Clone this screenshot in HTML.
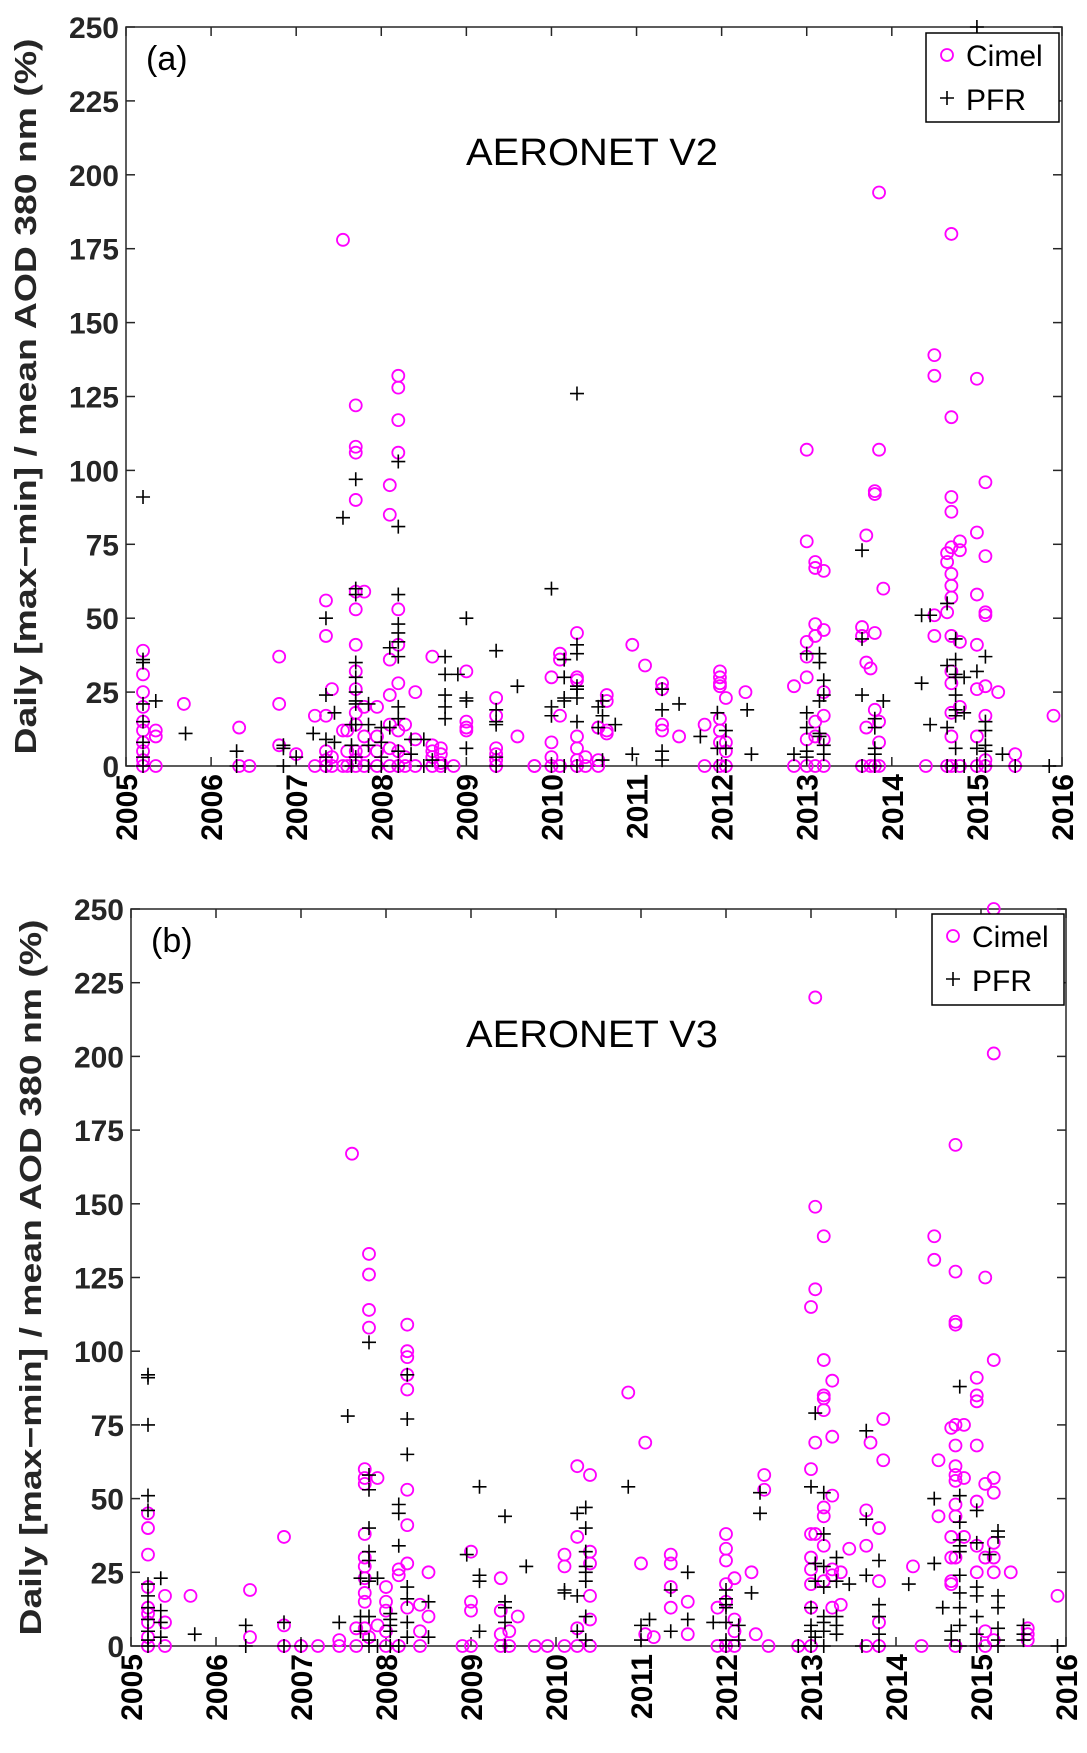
<!DOCTYPE html>
<html><head><meta charset="utf-8">
<style>
html,body{margin:0;padding:0;background:#fff;}
svg{display:block;font-family:"Liberation Sans",Arial,sans-serif;}
</style></head>
<body>
<svg id="fig" width="1087" height="1753" viewBox="0 0 1087 1753" xmlns="http://www.w3.org/2000/svg"></svg>
<script>
// ---- data: [year, [values...]] groups ----
const yearTicks = [2005,2006,2007,2008,2009,2010,2011,2012,2013,2014,2015,2016];
const valueTicks = [0,25,50,75,100,125,150,175,200,225,250];
const cimelV2 = [
[2005.2,[39,31,25,20,15,12,8,5,2,0]],[2005.35,[12,10,0]],[2005.68,[21]],[2006.33,[13,0]],[2006.45,[0]],
[2006.8,[37,21,7]],[2007.0,[4]],[2007.22,[17,0]],[2007.35,[56,44,17,5,0,2]],[2007.42,[26,3,0]],
[2007.55,[178,12,0]],[2007.6,[12,5,0]],[2007.7,[122,108,106,90,59,53,41,32,26,18,14,5,2,0]],
[2007.8,[59,20,10,5,0]],[2007.95,[20,10,5,0]],[2008.1,[36,24,95,85,14,6,0]],
[2008.2,[132,128,117,106,53,41,28,12,5,0]],[2008.28,[14,3,0]],[2008.4,[25,9,0]],[2008.6,[37,7,5,3,0]],
[2008.7,[6,4,1,0]],[2008.85,[0]],[2009.0,[32,15,13,12]],[2009.35,[23,17,6,4,2,0]],[2009.6,[10]],
[2009.8,[0,0]],[2010.0,[30,8,3,0]],[2010.1,[38,36,17,0]],[2010.3,[45,30,29,10,6,0,2]],[2010.4,[0,3]],
[2010.55,[13,2,0]],[2010.65,[24,22,12,11]],[2010.95,[41]],[2011.1,[34]],[2011.3,[28,26,14,12]],
[2011.5,[10]],[2011.8,[14,0]],[2011.98,[32,30,28,27,16,12,8,0]],[2012.05,[23,8,5,0]],[2012.28,[25]],
[2012.85,[27,0]],[2013.0,[107,76,42,37,30,9,0]],[2013.1,[69,67,48,44,15,10,0]],[2013.2,[66,46,25,17,9,0]],
[2013.65,[47,44,0]],[2013.7,[78,35,13]],[2013.75,[33,0]],[2013.8,[45,92,93,19,0]],[2013.85,[194,107,15,8,0]],
[2013.9,[60]],[2014.4,[0]],[2014.5,[139,132,44,51]],[2014.65,[72,69,52,0]],
[2014.7,[180,118,91,86,74,65,61,57,44,32,28,18,10,0]],[2014.8,[76,73,42,20,0]],
[2015.0,[131,79,58,41,26,10,0]],[2015.1,[96,71,52,51,27,17,2,0]],[2015.25,[25]],[2015.45,[4,0]],[2015.9,[17]]
];
const pfrV2 = [
[2005.2,[91,36,35,21,15,8,3,0]],[2005.35,[22]],[2005.7,[11]],[2006.3,[5,0]],[2006.85,[7,6,0]],[2007.0,[3]],
[2007.2,[11]],[2007.35,[50,24,9,3,0]],[2007.45,[18,8]],[2007.55,[84]],[2007.65,[14,7,0]],
[2007.7,[97,60,58,35,30,25,22,21,14,3]],[2007.85,[21,14,7,0]],[2008.0,[13,8,3,0]],[2008.1,[40,13]],
[2008.2,[103,81,58,48,45,42,37,20,16,5,0]],[2008.35,[9,4]],[2008.5,[9,0]],[2008.6,[2]],
[2008.75,[37,31,24,20,16,0]],[2008.9,[31]],[2009.0,[50,23,22,6]],[2009.35,[39,19,15,14,3,0]],[2009.6,[27]],
[2010.0,[60,20,17,0]],[2010.15,[36,30,23,22,0]],[2010.3,[126,41,38,27,26,23,15,0]],[2010.55,[20,13]],
[2010.6,[22,17,2]],[2010.75,[14]],[2010.95,[4]],[2011.3,[26,19,5,2]],[2011.5,[21]],[2011.75,[10]],
[2011.95,[18,6,0]],[2012.05,[12,6,0]],[2012.3,[19]],[2012.35,[4]],[2012.85,[4]],[2013.0,[38,18,13,5,3]],
[2013.15,[38,35,22,11,10]],[2013.2,[29,24,7,4]],[2013.65,[73,43,24,0]],[2013.8,[16,13,6,4,0]],[2013.9,[22]],
[2014.35,[28,51]],[2014.45,[51,14]],[2014.65,[55,34,13,0]],[2014.75,[43,36,31,30,24,19,17,6,0]],
[2014.85,[18,30,0]],[2015.0,[250,32,6,0]],[2015.1,[37,15,12,7,5,0]],[2015.3,[4]],[2015.45,[0]],[2015.85,[0]]
];
const cimelV3 = [
[2005.2,[45,40,31,20,13,11,8,3,0]],[2005.4,[17,8,0]],[2005.7,[17]],[2006.4,[19,3]],[2006.8,[37,7,0]],
[2007.0,[0]],[2007.2,[0]],[2007.45,[2,0]],[2007.6,[167]],[2007.65,[6,0]],
[2007.75,[60,57,55,38,30,27,23,18,15,6]],[2007.8,[133,126,114,108,3]],[2007.9,[57,7]],
[2008.0,[20,15,12,5,0]],[2008.15,[26,24,0]],[2008.25,[109,100,98,92,87,53,41,28,13]],[2008.4,[14,5,0]],
[2008.5,[25,10]],[2008.9,[0]],[2009.0,[32,15,12,0]],[2009.35,[23,12,4,0]],[2009.45,[5,0]],[2009.55,[10]],
[2009.75,[0]],[2009.9,[0]],[2010.1,[31,27,0]],[2010.25,[61,37,6,0]],[2010.4,[58,32,28,17,9,0]],
[2010.85,[86]],[2011.0,[28]],[2011.05,[69,4]],[2011.15,[3]],[2011.35,[31,28,20,13]],[2011.55,[15,4]],
[2011.9,[13,0]],[2012.0,[38,33,29,21,15,0]],[2012.1,[23,9,5,0]],[2012.3,[25]],[2012.35,[4]],
[2012.45,[53,58]],[2012.5,[0]],[2012.85,[0]],[2013.0,[115,60,38,30,26,21,13,0]],
[2013.05,[220,149,121,69,38]],[2013.15,[139,97,85,84,80,47,44,34,22]],[2013.25,[90,71,51,26,24,13]],
[2013.35,[25,14]],[2013.45,[33]],[2013.65,[46,34,0]],[2013.7,[69]],[2013.8,[40,22,8,0]],[2013.85,[77,63]],
[2014.2,[27]],[2014.3,[0]],[2014.45,[139,131]],[2014.5,[63,44]],[2014.65,[74,37,30,22,21]],
[2014.7,[170,127,110,109,75,68,61,58,56,48,44,30,0]],[2014.8,[75,57,37]],
[2014.95,[91,85,83,68,49,34,25]],[2015.05,[125,55,30,5,0]],[2015.15,[250,201,97,57,52,35,30,25,2]],
[2015.35,[25]],[2015.55,[6,4,2]],[2015.9,[17]]
];
const pfrV3 = [
[2005.2,[92,91,75,51,46,21,17,13,9,5,2,0]],[2005.35,[23,12,8,3]],[2005.75,[4]],[2006.35,[7,0]],
[2006.8,[8,0]],[2007.0,[0]],[2007.45,[8]],[2007.55,[78]],[2007.7,[23,10,5]],
[2007.8,[103,58,53,40,32,29,22,10,2,0]],[2007.9,[23,0]],[2008.05,[11,9,7,5,0]],[2008.15,[48,45,34,0]],
[2008.25,[92,77,65,20,16,8,3]],[2008.5,[15,3]],[2008.95,[31]],[2009.1,[54,24,22,5]],
[2009.4,[44,15,13,8,0]],[2009.65,[27]],[2010.1,[19,18]],[2010.25,[45,17,5]],
[2010.35,[47,40,32,27,25,22,10,2]],[2010.85,[54]],[2011.0,[7,2]],[2011.1,[9]],[2011.35,[19,5]],
[2011.55,[25,9]],[2011.85,[8]],[2012.0,[19,16,14,13,8,2,0]],[2012.15,[7,2]],[2012.3,[18]],[2012.4,[45,52]],
[2012.85,[0]],[2013.0,[54,13,7,5,0]],[2013.05,[79,28,22,3]],[2013.15,[52,38,27,20,10,8,5,0]],
[2013.3,[30,22,10,7,4]],[2013.45,[21]],[2013.6,[0]],[2013.65,[43,73,24]],[2013.8,[29,14,10,4,0]],
[2014.15,[21]],[2014.45,[50,28]],[2014.55,[13]],[2014.65,[5,2]],
[2014.75,[88,51,42,36,34,32,24,18,13,7,0]],[2014.95,[46,35,20,17,10,4,0]],[2015.1,[31]],
[2015.2,[39,37,17,13,6,2,0]],[2015.5,[7,4,2]],[2015.9,[0]]
];
const panelLabels = ["(a)","(b)"];
const panelTitles = ["AERONET V2","AERONET V3"];

const NS="http://www.w3.org/2000/svg";
const svg=document.getElementById('fig');
function mk(tag,attrs,parent){const e=document.createElementNS(NS,tag);for(const k in attrs)e.setAttribute(k,attrs[k]);(parent||svg).appendChild(e);return e;}

function panel(idx,box,cimel,pfr,legBox){
  const g=mk('g',{});
  
  
  const xs=y=>box.l+(y-2005)/11*(box.r-box.l);
  const ys=v=>box.b-v/250*(box.b-box.t);
  // axes box
  const frame=mk('rect',{x:box.l,y:box.t,width:box.r-box.l,height:box.b-box.t,fill:'none',stroke:'#262626','stroke-width':1.5},g);
  
  
  // y ticks
  valueTicks.forEach(v=>{
    const y=ys(v);
    mk('line',{x1:box.l,x2:box.l+9,y1:y,y2:y,stroke:'#262626','stroke-width':1.5},g);
    mk('line',{x1:box.r,x2:box.r-9,y1:y,y2:y,stroke:'#262626','stroke-width':1.5},g);
    const t=mk('text',{x:box.l-7,y:y+11,'text-anchor':'end','font-size':30,'font-weight':'bold',fill:'#262626'},g);
    t.textContent=v;
    
    
  });
  // x ticks
  yearTicks.forEach(yr=>{
    const x=xs(yr);
    mk('line',{x1:x,x2:x,y1:box.b,y2:box.b-9,stroke:'#262626','stroke-width':1.5},g);
    mk('line',{x1:x,x2:x,y1:box.t,y2:box.t+9,stroke:'#262626','stroke-width':1.5},g);
    const t=mk('text',{transform:`translate(${x+11},${box.b+8}) rotate(-90)`,'text-anchor':'end','font-size':30,'font-weight':'bold',fill:'#000'},g);
    t.textContent=yr;
    
    
  });
  // y axis title
  const cy=(box.t+box.b)/2;
  const yt=mk('text',{transform:`translate(${box.l-90},${cy}) rotate(-90)`,'text-anchor':'middle','font-size':31,'font-weight':'bold',fill:'#262626',textLength:716,lengthAdjust:'spacingAndGlyphs'},g);
  yt.textContent='Daily [max\u2212min] / mean AOD 380 nm (%)';
  
  
  // panel label & title
  const pl=mk('text',{x:box.l+20,y:box.t+43,'font-size':34,fill:'#000'},g);
  pl.textContent=panelLabels[idx];
  
  
  const ti=mk('text',{x:592,y:box.t+138,'text-anchor':'middle','font-size':38,fill:'#000',textLength:252,lengthAdjust:'spacingAndGlyphs'},g);
  ti.textContent=panelTitles[idx];
  
  
  // clip
  const cid='clip'+idx;
  const cp=mk('clipPath',{id:cid},g);
  mk('rect',{x:box.l-8,y:box.t-8,width:box.r-box.l+16,height:box.b-box.t+16},cp);
  const mg=mk('g',{'clip-path':`url(#${cid})`},g);
  // cimel circles
  cimel.forEach(([yr,vals])=>vals.forEach(v=>{
    const c=mk('ellipse',{cx:xs(yr),cy:ys(v),rx:6,ry:6,fill:'none',stroke:'#ff00ff','stroke-width':1.8},mg);
    
    
  }));
  // pfr pluses
  pfr.forEach(([yr,vals])=>vals.forEach(v=>{
    const x=xs(yr),y=ys(v);
    const p=mk('path',{d:`M${x-7},${y}H${x+7}M${x},${y-7}V${y+7}`,stroke:'#000','stroke-width':1.6,fill:'none'},mg);
    
    
  }));
  // legend
  const lg=mk('g',{},g);
  
  
  mk('rect',{x:legBox.x,y:legBox.y,width:legBox.w,height:legBox.h,fill:'#fff',stroke:'#000','stroke-width':1.5},lg);
  mk('ellipse',{cx:legBox.x+21,cy:legBox.y+22,rx:6,ry:6,fill:'none',stroke:'#ff00ff','stroke-width':1.8},lg);
  const l1=mk('text',{x:legBox.x+40,y:legBox.y+33,'font-size':30,fill:'#000'},lg);
  l1.textContent='Cimel';
  
  
  const px=legBox.x+21,py=legBox.y+65;
  mk('path',{d:`M${px-7},${py}H${px+7}M${px},${py-7}V${py+7}`,stroke:'#000','stroke-width':1.6},lg);
  const l2=mk('text',{x:legBox.x+40,y:legBox.y+77,'font-size':30,fill:'#000'},lg);
  l2.textContent='PFR';
  
  
}
panel(0,{l:126,r:1062,t:27,b:766},cimelV2,pfrV2,{x:926,y:33,w:133,h:89});
panel(1,{l:131,r:1066,t:909,b:1646},cimelV3,pfrV3,{x:932,y:914,w:132,h:91});
</script>
</body></html>
